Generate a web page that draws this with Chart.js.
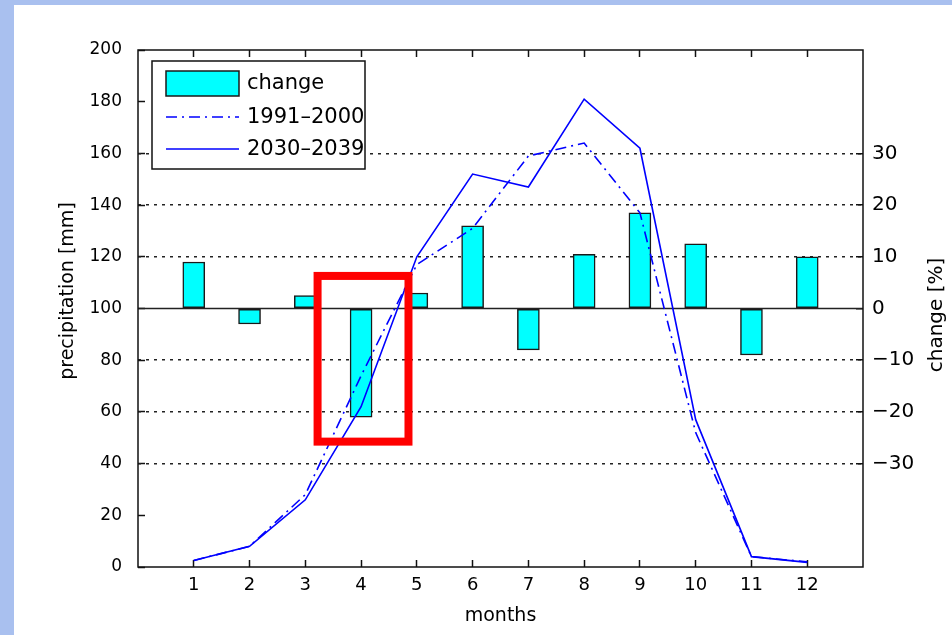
<!DOCTYPE html>
<html>
<head>
<meta charset="utf-8">
<script src="https://cdn.jsdelivr.net/npm/chart.js@4.4.0/dist/chart.umd.min.js"></script>
<style>
  html, body { margin: 0; padding: 0; background: #fff; }
  canvas { display: block; }
</style>
</head>
<body>
<canvas id="grafico" width="952" height="635"></canvas>
<script>
// data
const months = [1, 2, 3, 4, 5, 6, 7, 8, 9, 10, 11, 12];
const changePct = [9, -3, 2.5, -21, 3, 16, -8, 10.5, 18.5, 12.5, -9, 10];
const precip1991 = [2.5, 8, 28, 74, 117, 131, 159, 164, 137, 52, 4, 2];
const precip2030 = [2.5, 8, 26, 62, 120, 152, 147, 181, 162, 57, 4, 1.8];

const monthTicks = [1, 2, 3, 4, 5, 6, 7, 8, 9, 10, 11, 12];
const precipTicks = [0, 20, 40, 60, 80, 100, 120, 140, 160, 180, 200];
const changeTicks = [-30, -20, -10, 0, 10, 20, 30];

const seriesNames = ["change", "1991\u20132000", "2030\u20132039"];
const xTitle = "months";
const yTitle = "precipitation [mm]";
const y2Title = "change [%]";

// red box drawn around april (months / mm)
const highlightX = [3.22, 4.85];
const highlightY = [48.5, 112.6];

const FONT = "DejaVu Sans";

function setTicks(list) {
  return function (scale) {
    scale.ticks = list.map(v => ({ value: v }));
  };
}

function fixSize(prop, size) {
  return function (scale) {
    scale[prop] = size;
  };
}

const matlabLook = {
  id: "matlabLook",
  beforeDraw(chart) {
    const ctx = chart.ctx;
    ctx.save();
    ctx.fillStyle = "#ffffff";
    ctx.fillRect(0, 0, chart.width, chart.height);
    ctx.fillStyle = "#a9c0ef";
    ctx.fillRect(0, 0, chart.width, 5);
    ctx.fillRect(0, 0, 14, chart.height);
    ctx.restore();
  },
  beforeDatasetsDraw(chart) {
    const ctx = chart.ctx;
    const a = chart.chartArea;
    const y0 = chart.scales.y2.getPixelForValue(0);
    ctx.save();
    ctx.strokeStyle = "#222";
    ctx.lineWidth = 1.5;
    ctx.beginPath();
    ctx.moveTo(a.left, y0);
    ctx.lineTo(a.right, y0);
    ctx.stroke();
    ctx.restore();
  },
  afterDraw(chart) {
    const ctx = chart.ctx;
    const a = chart.chartArea;
    const sx = chart.scales.x;
    const sy = chart.scales.y;

    // axes box
    ctx.save();
    ctx.strokeStyle = "#111";
    ctx.lineWidth = 1.5;
    ctx.strokeRect(a.left, a.top, a.right - a.left, a.bottom - a.top);
    ctx.restore();

    // red highlight box
    const rx1 = sx.getPixelForValue(highlightX[0]);
    const rx2 = sx.getPixelForValue(highlightX[1]);
    const ry1 = sy.getPixelForValue(highlightY[1]);
    const ry2 = sy.getPixelForValue(highlightY[0]);
    ctx.save();
    ctx.strokeStyle = "#ff0000";
    ctx.lineWidth = 8;
    ctx.strokeRect(rx1, ry1, rx2 - rx1, ry2 - ry1);
    ctx.restore();

    // legend
    const ds = chart.data.datasets;
    const lx = a.left + 14, ly = a.top + 11, lw = 213, lh = 108;
    ctx.save();
    ctx.fillStyle = "#fff";
    ctx.fillRect(lx, ly, lw, lh);
    ctx.beginPath();
    ctx.rect(lx, ly, lw, lh);
    ctx.clip();
    const rows = [22, 56, 88];
    ctx.font = "21px '" + FONT + "'";
    ctx.textBaseline = "middle";
    ctx.textAlign = "left";
    ds.forEach((d, i) => {
      const cy = ly + rows[i];
      if (d.type === "bar") {
        ctx.fillStyle = d.backgroundColor;
        ctx.fillRect(lx + 14, cy - 12, 73, 25);
        ctx.strokeStyle = d.borderColor;
        ctx.lineWidth = 1.5;
        ctx.strokeRect(lx + 14, cy - 12, 73, 25);
      } else {
        ctx.strokeStyle = d.borderColor;
        ctx.lineWidth = d.borderWidth;
        ctx.setLineDash(d.borderDash || []);
        ctx.beginPath();
        ctx.moveTo(lx + 14, cy);
        ctx.lineTo(lx + 87, cy);
        ctx.stroke();
        ctx.setLineDash([]);
      }
      ctx.fillStyle = "#000";
      ctx.fillText(d.label, lx + 95, cy + 1);
    });
    ctx.restore();
    ctx.save();
    ctx.strokeStyle = "#111";
    ctx.lineWidth = 1.5;
    ctx.strokeRect(lx, ly, lw, lh);
    ctx.restore();

    // axis titles
    ctx.save();
    ctx.fillStyle = "#000";
    ctx.textAlign = "center";
    ctx.textBaseline = "middle";
    ctx.font = "19px '" + FONT + "'";
    ctx.fillText(xTitle, (a.left + a.right) / 2, 616);
    ctx.translate(68, 291);
    ctx.rotate(-Math.PI / 2);
    ctx.fillText(yTitle, 0, 0);
    ctx.restore();
    ctx.save();
    ctx.fillStyle = "#000";
    ctx.textAlign = "center";
    ctx.textBaseline = "middle";
    ctx.font = "20px '" + FONT + "'";
    ctx.translate(937, 315);
    ctx.rotate(-Math.PI / 2);
    ctx.fillText(y2Title, 0, 0);
    ctx.restore();
  }
};

const ctx = document.getElementById("grafico").getContext("2d");

new Chart(ctx, {
  type: "bar",
  data: {
    datasets: [
      {
        type: "bar",
        label: seriesNames[0],
        data: months.map((m, i) => ({ x: m, y: changePct[i] })),
        xAxisID: "x",
        yAxisID: "y2",
        backgroundColor: "#00ffff",
        borderColor: "#1a1a1a",
        borderWidth: 1.5,
        borderSkipped: false,
        barThickness: 22,
        order: 3
      },
      {
        type: "line",
        label: seriesNames[1],
        data: months.map((m, i) => ({ x: m, y: precip1991[i] })),
        xAxisID: "x",
        yAxisID: "y",
        borderColor: "#0000ff",
        borderWidth: 1.6,
        borderDash: [11, 5, 2, 5],
        pointRadius: 0,
        tension: 0,
        fill: false,
        order: 2
      },
      {
        type: "line",
        label: seriesNames[2],
        data: months.map((m, i) => ({ x: m, y: precip2030[i] })),
        xAxisID: "x",
        yAxisID: "y",
        borderColor: "#0000ff",
        borderWidth: 1.6,
        pointRadius: 0,
        tension: 0,
        fill: false,
        order: 1
      }
    ]
  },
  options: {
    responsive: false,
    animation: false,
    layout: { padding: { top: 50, left: 0, right: 0, bottom: 0 } },
    plugins: {
      legend: { display: false },
      tooltip: { enabled: false }
    },
    scales: {
      x: {
        type: "linear",
        position: "bottom",
        min: 0,
        max: 13,
        offset: false,
        afterBuildTicks: setTicks(monthTicks),
        afterFit: fixSize("height", 68),
        border: { display: false },
        grid: { offset: false, drawOnChartArea: false, drawTicks: true, tickLength: -7, tickColor: "#111", tickWidth: 1.5 },
        ticks: { color: "#000", padding: 15, font: { family: FONT, size: 18 } }
      },
      x2: {
        type: "linear",
        position: "top",
        min: 0,
        max: 13,
        offset: false,
        afterBuildTicks: setTicks(monthTicks),
        afterFit: fixSize("height", 0),
        border: { display: false },
        grid: { offset: false, drawOnChartArea: false, drawTicks: true, tickLength: -7, tickColor: "#111", tickWidth: 1.5 },
        ticks: { display: false }
      },
      y: {
        type: "linear",
        position: "left",
        min: 0,
        max: 200,
        afterBuildTicks: setTicks(precipTicks),
        afterFit: fixSize("width", 138),
        border: { display: false },
        grid: { drawOnChartArea: false, drawTicks: true, tickLength: -7, tickColor: "#111", tickWidth: 1.5 },
        ticks: { color: "#000", padding: 23, font: { family: FONT, size: 17 } }
      },
      y2: {
        type: "linear",
        position: "right",
        min: -50,
        max: 50,
        afterBuildTicks: setTicks(changeTicks),
        afterFit: fixSize("width", 89),
        border: { display: false, dash: [3, 5] },
        grid: {
          drawOnChartArea: true,
          drawTicks: true,
          tickLength: -7,
          tickColor: "#111",
          tickWidth: 1.5,
          lineWidth: 1.5,
          color: c => (c.tick && c.tick.value === 0 ? "rgba(0,0,0,0)" : "#222")
        },
        ticks: {
          color: "#000",
          padding: 16,
          font: { family: FONT, size: 20 },
          callback: v => String(v).replace("-", "\u2212")
        }
      }
    }
  },
  plugins: [matlabLook]
});
</script>
</body>
</html>
